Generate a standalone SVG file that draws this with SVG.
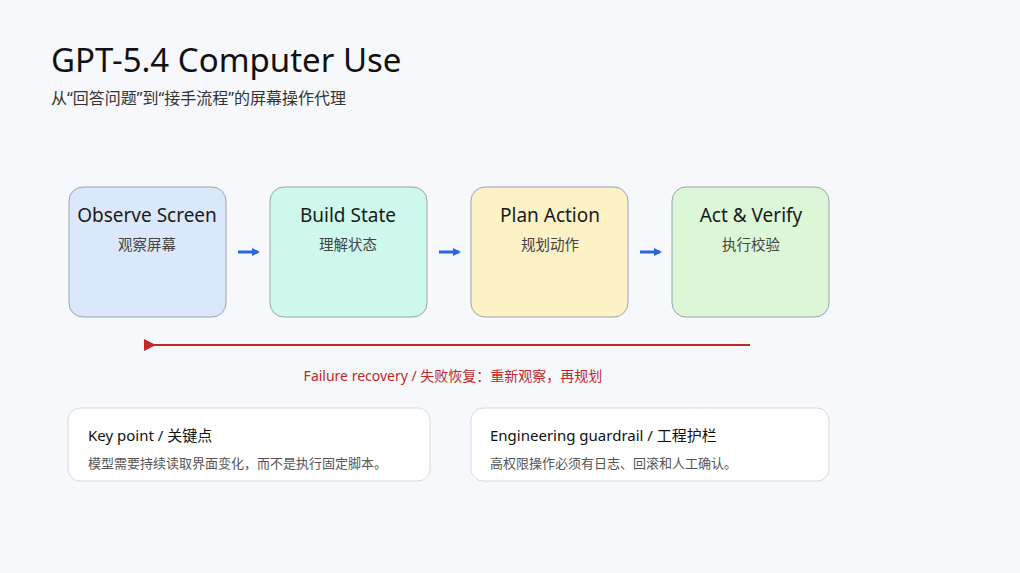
<svg xmlns="http://www.w3.org/2000/svg" width="1020" height="573" viewBox="0 0 1020 573">
<style>
.t{font-family:"Noto Sans","Noto Sans CJK SC",sans-serif;fill:#111}
.h{font-size:19px;text-anchor:middle;fill:#1a1a1a}
.s{font-size:14.5px;text-anchor:middle;fill:#444}
.box{stroke:#9aa4b2;stroke-width:1}
.card{fill:#fff;stroke:#d6dbe2;stroke-width:1}
</style>
<defs>
<marker id="ab" markerWidth="8" markerHeight="8" refX="6" refY="4" orient="auto" markerUnits="userSpaceOnUse"><path d="M0,0 L8,4 L0,8 Z" fill="#2b64e0"/></marker>
<marker id="ar" markerWidth="12" markerHeight="12" refX="2" refY="6" orient="auto" markerUnits="userSpaceOnUse"><path d="M12,0 L0,6 L12,12 Z" fill="#c0282a"/></marker>
</defs>
<rect width="1020" height="573" fill="#f6f8fb"/>
<text class="t" x="51" y="72" font-size="33" fill="#111">GPT-5.4 Computer Use</text>
<text class="t" x="51" y="104" font-size="16" style="fill:#333">从“回答问题”到“接手流程”的屏幕操作代理</text>
<g id="n1"><rect class="box" x="69" y="187" width="157" height="130" rx="14" fill="#dbe8fb"/><text class="t h" x="147" y="222">Observe Screen</text><text class="t s" x="147" y="250">观察屏幕</text></g>
<g id="n2"><rect class="box" x="270" y="187" width="157" height="130" rx="14" fill="#cdf8eb"/><text class="t h" x="348" y="222">Build State</text><text class="t s" x="348" y="250">理解状态</text></g>
<g id="n3"><rect class="box" x="471" y="187" width="157" height="130" rx="14" fill="#fdf1c6"/><text class="t h" x="550" y="222">Plan Action</text><text class="t s" x="550" y="250">规划动作</text></g>
<g id="n4"><rect class="box" x="672" y="187" width="157" height="130" rx="14" fill="#dcf7d8"/><text class="t h" x="751" y="222">Act &amp; Verify</text><text class="t s" x="751" y="250">执行校验</text></g>
<g id="connectors" stroke-width="3">
<line x1="238" y1="252" x2="258" y2="252" stroke="#2b64e0" marker-end="url(#ab)"/>
<line x1="439" y1="252" x2="459" y2="252" stroke="#2b64e0" marker-end="url(#ab)"/>
<line x1="640" y1="252" x2="660" y2="252" stroke="#2b64e0" marker-end="url(#ab)"/>
<line x1="750" y1="345" x2="154" y2="345" stroke="#c0282a" stroke-width="2" marker-end="url(#ar)"/>
</g>
<text class="t" x="453" y="381" font-size="14" text-anchor="middle" style="fill:#c0282a">Failure recovery / 失败恢复：重新观察，再规划</text>
<g id="c1"><rect class="card" x="68" y="408" width="362" height="73" rx="12"/><text class="t" x="88" y="441" font-size="15">Key point / 关键点</text><text class="t" x="88" y="468" font-size="13" style="fill:#555">模型需要持续读取界面变化，而不是执行固定脚本。</text></g>
<g id="c2"><rect class="card" x="471" y="408" width="358" height="73" rx="12"/><text class="t" x="490" y="441" font-size="15">Engineering guardrail / 工程护栏</text><text class="t" x="490" y="468" font-size="13" style="fill:#555">高权限操作必须有日志、回滚和人工确认。</text></g>
</svg>
